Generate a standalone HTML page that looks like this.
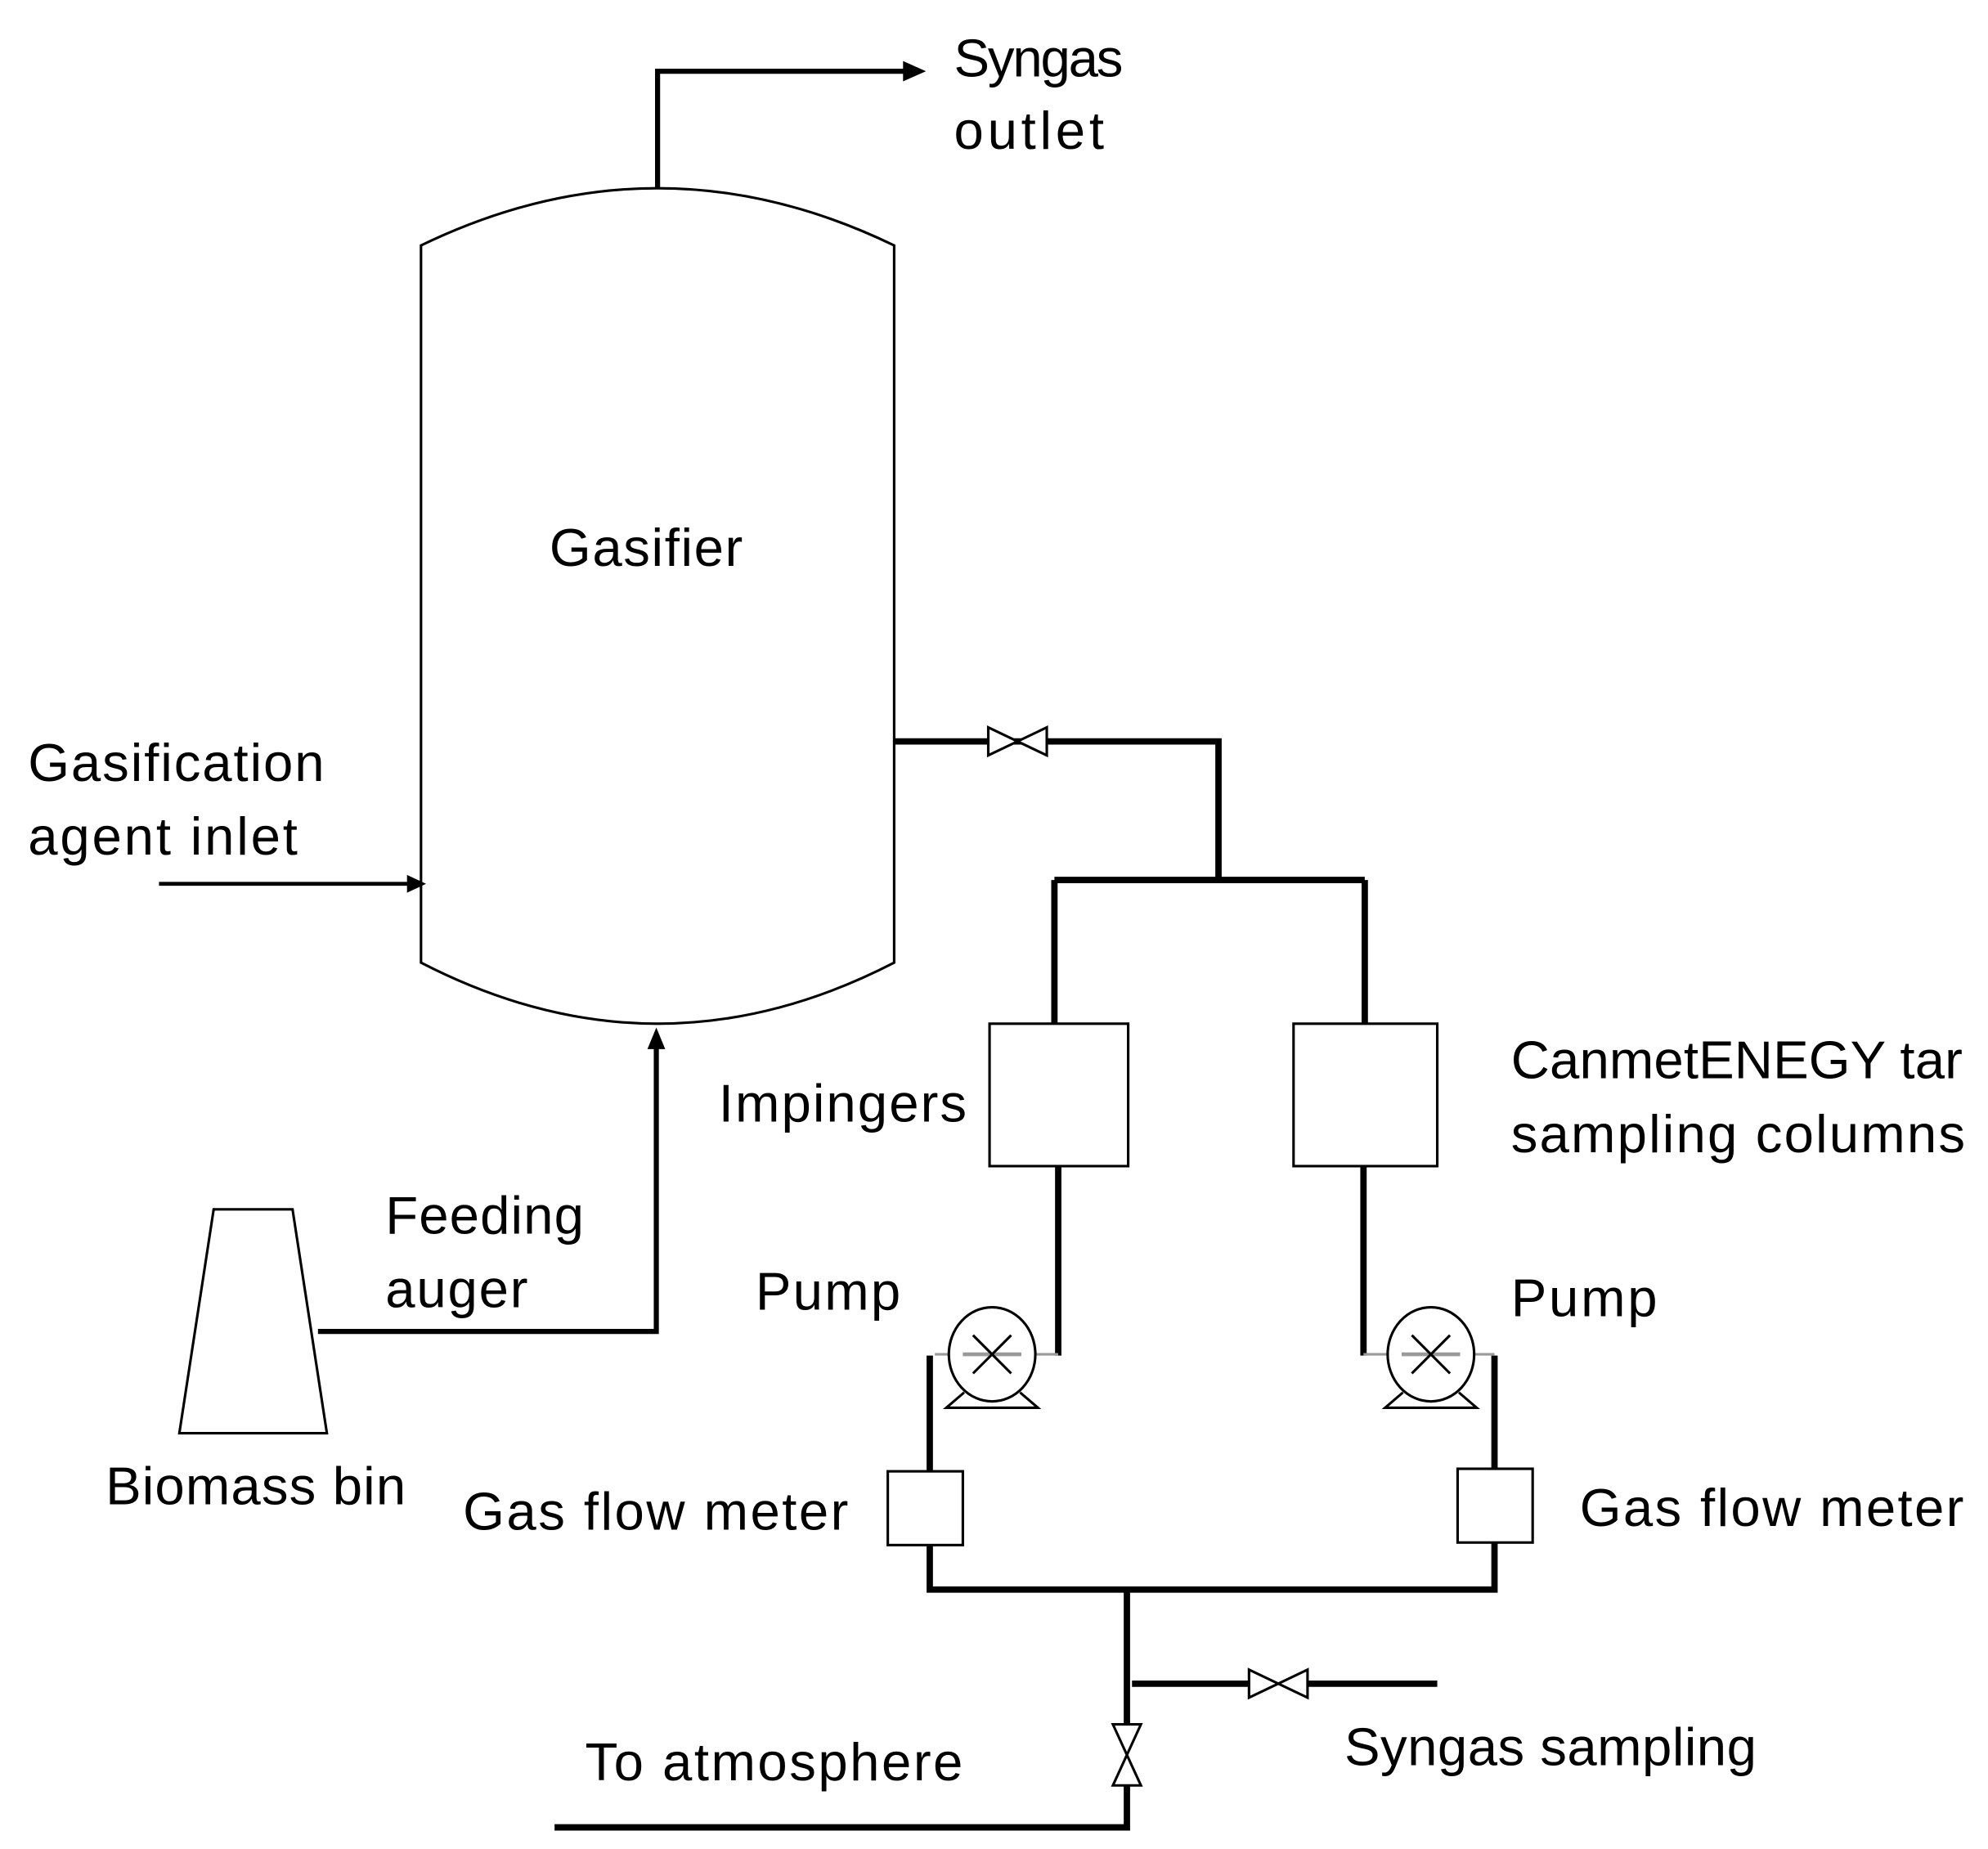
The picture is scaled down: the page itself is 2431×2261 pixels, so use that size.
<!DOCTYPE html>
<html><head><style>html,body{margin:0;padding:0;background:#fff}svg{display:block}</style></head><body>
<svg width="2431" height="2261" viewBox="0 0 1563 1454" preserveAspectRatio="none" xmlns="http://www.w3.org/2000/svg" font-family="Liberation Sans, sans-serif" font-size="42" fill="#000">
<g fill="none" stroke="#000">
<path d="M331,757 L331,193 Q424,148 517,148 Q610,148 703,193 L703,757 Q610,805 517,805 Q424,805 331,757 Z" stroke-width="2" fill="#fff"/>
<path d="M517,148 L517,56 L715,56" stroke-width="4"/>
<path d="M125,695 L322,695" stroke-width="3"/>
<path d="M250,1047 L516,1047 L516,822" stroke-width="4"/>
<path d="M168,951 L230,951 L257,1127 L141,1127 Z" stroke-width="2"/>
<path d="M703,583 L958,583 L958,692 M829,692 L1073,692 M829,692 L829,805 M1073,692 L1073,805" stroke-width="5"/>
<rect x="778" y="805" width="109" height="112" stroke-width="2"/>
<rect x="1017" y="805" width="113" height="112" stroke-width="2"/>
<path d="M832,917 L832,1066 M1072,917 L1072,1066" stroke-width="5"/>
<path d="M731,1066 L731,1157 M731,1215 L731,1250 L1175,1250 L1175,1213 M1175,1155 L1175,1066 M886,1250 L886,1356 M886,1404 L886,1437 L436,1437 M890,1324 L982,1324 M1028,1324 L1130,1324" stroke-width="5"/>
<rect x="698" y="1157" width="59" height="58" stroke-width="2"/>
<rect x="1146" y="1155" width="59" height="58" stroke-width="2"/>
<path d="M735,1065 L832,1065 M1072,1065 L1175,1065" stroke="#999" stroke-width="2"/>
<ellipse cx="780" cy="1065" rx="34" ry="37" stroke-width="2" fill="#fff"/>
<ellipse cx="1125" cy="1065" rx="34" ry="37" stroke-width="2" fill="#fff"/>
<path d="M757,1065 L803,1065 M1102,1065 L1148,1065" stroke="#999" stroke-width="3"/>
<path d="M765,1050 L795,1080 M795,1050 L765,1080 M1110,1050 L1140,1080 M1140,1050 L1110,1080" stroke-width="2"/>
<path d="M758,1095 L744,1107 L816,1107 L802,1095 M1103,1095 L1089,1107 L1161,1107 L1147,1095" stroke-width="2"/>
<path d="M777,572 L777,594 L823,572 L823,594 Z" stroke-width="2" fill="#fff"/>
<path d="M982,1313 L982,1335 L1028,1313 L1028,1335 Z" stroke-width="2" fill="#fff"/>
<path d="M875,1356 L897,1356 L875,1404 L897,1404 Z" stroke-width="2" fill="#fff"/>
</g>
<path d="M728,56 L710,48 L710,64 Z"/>
<path d="M335,695 L320,688 L320,702 Z"/>
<path d="M516,808 L509,825 L523,825 Z"/>
<text x="750" y="60" textLength="133">Syngas</text>
<text x="750" y="117" textLength="118">outlet</text>
<text x="432" y="445" textLength="152">Gasifier</text>
<text x="22" y="614" textLength="233">Gasification</text>
<text x="22" y="672" textLength="212">agent inlet</text>
<text x="303" y="970" textLength="156">Feeding</text>
<text x="303" y="1028" textLength="112">auger</text>
<text x="83" y="1183" textLength="236">Biomass bin</text>
<text x="565" y="882" textLength="195">Impingers</text>
<text x="1188" y="848" textLength="355">CanmetENEGY tar</text>
<text x="1188" y="906" textLength="357">sampling columns</text>
<text x="594" y="1030" textLength="114">Pump</text>
<text x="1188" y="1035" textLength="115">Pump</text>
<text x="364" y="1203" textLength="303">Gas flow meter</text>
<text x="1242" y="1200" textLength="302">Gas flow meter</text>
<text x="460" y="1400" textLength="297">To atmosphere</text>
<text x="1057" y="1388" textLength="324">Syngas sampling</text>
</svg>
</body></html>
